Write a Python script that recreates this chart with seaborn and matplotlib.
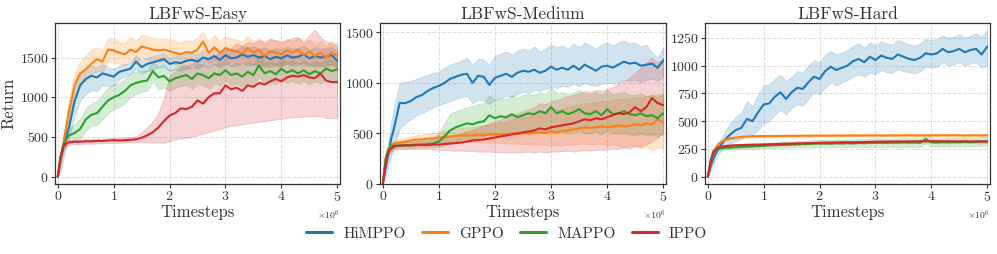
import numpy as np
import pandas as pd
import matplotlib
matplotlib.use("Agg")
import matplotlib.pyplot as plt
import seaborn as sns

# ---------------- data (timesteps in units of 1e6) ----------------
X = [0, 0.05, 0.1, 0.15, 0.2,
     0.3, 0.4, 0.5, 0.6, 0.7, 0.8, 0.9, 1.0,
     1.1, 1.2, 1.3, 1.4, 1.5, 1.6, 1.7, 1.8, 1.9, 2.0,
     2.1, 2.2, 2.3, 2.4, 2.5, 2.6, 2.7, 2.8, 2.9, 3.0,
     3.1, 3.2, 3.3, 3.4, 3.5, 3.6, 3.7, 3.8, 3.9, 4.0,
     4.1, 4.2, 4.3, 4.4, 4.5, 4.6, 4.7, 4.8, 4.9, 5.0]

methods = ["HiMPPO", "GPPO", "MAPPO", "IPPO"]
titles = ["LBFwS-Easy", "LBFwS-Medium", "LBFwS-Hard"]

# ----- Easy -----
easy_himppo = [0, 200, 380, 500, 620,
               950, 1150, 1230, 1270, 1250, 1300, 1280, 1260,
               1320, 1340, 1360, 1450, 1380, 1420, 1440, 1460, 1480, 1420,
               1440, 1430, 1460, 1470, 1450, 1500, 1480, 1520, 1470, 1530,
               1490, 1500, 1540, 1510, 1530, 1500, 1520, 1480, 1510, 1490,
               1530, 1500, 1510, 1540, 1490, 1520, 1500, 1510, 1530, 1460]
easy_himppo_lo = [0, 60, 230, 360, 460,
                  760, 950, 1040, 1090, 1080, 1150, 1140, 1150,
                  1230, 1260, 1290, 1350, 1300, 1330, 1350, 1370, 1390, 1330,
                  1350, 1340, 1360, 1380, 1360, 1400, 1380, 1420, 1370, 1420,
                  1390, 1400, 1430, 1400, 1420, 1390, 1410, 1380, 1400, 1390,
                  1420, 1400, 1400, 1430, 1390, 1410, 1390, 1400, 1420, 1360]
easy_himppo_hi = [0, 320, 500, 620, 760,
                  1120, 1300, 1380, 1400, 1380, 1420, 1380, 1360,
                  1400, 1420, 1430, 1530, 1460, 1500, 1520, 1540, 1560, 1500,
                  1530, 1520, 1550, 1560, 1540, 1600, 1580, 1620, 1570, 1640,
                  1590, 1600, 1650, 1620, 1640, 1610, 1630, 1590, 1620, 1600,
                  1640, 1610, 1620, 1650, 1600, 1630, 1610, 1620, 1640, 1580]

easy_gppo = [0, 220, 420, 620, 820,
             1150, 1300, 1350, 1420, 1480, 1450, 1600, 1590,
             1560, 1540, 1600, 1570, 1640, 1620, 1600, 1590, 1600, 1580,
             1560, 1540, 1570, 1560, 1600, 1700, 1560, 1630, 1560, 1620,
             1590, 1580, 1550, 1620, 1560, 1600, 1520, 1580, 1560, 1540,
             1590, 1560, 1600, 1530, 1580, 1520, 1560, 1500, 1560, 1520]
easy_gppo_lo = [0, 120, 300, 480, 650,
                980, 1150, 1200, 1280, 1330, 1320, 1450, 1440,
                1420, 1400, 1450, 1420, 1490, 1470, 1450, 1440, 1450, 1430,
                1410, 1390, 1420, 1410, 1450, 1530, 1410, 1480, 1410, 1470,
                1440, 1430, 1400, 1470, 1410, 1450, 1370, 1430, 1410, 1390,
                1440, 1410, 1450, 1380, 1430, 1370, 1410, 1350, 1410, 1370]
easy_gppo_hi = [0, 320, 540, 760, 980,
                1300, 1450, 1530, 1600, 1630, 1600, 1750, 1740,
                1700, 1690, 1760, 1720, 1790, 1770, 1750, 1740, 1750, 1730,
                1710, 1690, 1720, 1710, 1750, 1820, 1710, 1780, 1710, 1770,
                1740, 1730, 1700, 1770, 1710, 1750, 1670, 1730, 1710, 1690,
                1740, 1710, 1750, 1680, 1730, 1670, 1710, 1650, 1710, 1670]

easy_mappo = [0, 250, 400, 470, 520,
              550, 600, 720, 780, 800, 880, 960, 1000,
              1030, 1080, 1150, 1180, 1200, 1210, 1330, 1250, 1270, 1200,
              1240, 1260, 1280, 1230, 1300, 1280, 1240, 1300, 1280, 1340,
              1280, 1300, 1260, 1320, 1280, 1400, 1300, 1330, 1290, 1360,
              1310, 1340, 1300, 1340, 1290, 1330, 1300, 1360, 1330, 1350]
easy_mappo_lo = [0, 200, 340, 400, 430,
                 450, 480, 580, 640, 650, 720, 800, 850,
                 880, 930, 1000, 1040, 1070, 1080, 1200, 1100, 1120, 1080,
                 1120, 1140, 1160, 1110, 1170, 1150, 1110, 1170, 1150, 1210,
                 1150, 1170, 1130, 1190, 1150, 1260, 1170, 1200, 1160, 1230,
                 1180, 1210, 1170, 1210, 1160, 1200, 1170, 1230, 1200, 1220]
easy_mappo_hi = [0, 300, 460, 540, 610,
                 660, 730, 860, 920, 950, 1040, 1120, 1160,
                 1180, 1230, 1300, 1320, 1330, 1340, 1450, 1390, 1410, 1330,
                 1370, 1390, 1410, 1360, 1430, 1410, 1370, 1430, 1410, 1470,
                 1410, 1430, 1390, 1450, 1410, 1530, 1430, 1460, 1420, 1490,
                 1440, 1470, 1430, 1470, 1420, 1460, 1430, 1490, 1460, 1480]

easy_ippo = [0, 250, 380, 420, 430,
             440, 440, 445, 445, 450, 450, 455, 460,
             455, 460, 465, 470, 490, 520, 560, 620, 700, 770,
             800, 860, 850, 880, 960, 920, 1000, 1050, 1050, 1150,
             1100, 1120, 1080, 1150, 1130, 1180, 1160, 1200, 1230, 1200,
             1250, 1270, 1260, 1280, 1250, 1240, 1300, 1210, 1190, 1190]
easy_ippo_lo = [0, 200, 340, 390, 400,
                410, 410, 415, 415, 420, 420, 425, 425,
                425, 430, 430, 430, 430, 430, 430, 430, 425, 450,
                470, 480, 490, 500, 520, 540, 560, 580, 600, 620,
                640, 650, 660, 670, 680, 690, 700, 710, 720, 730,
                740, 745, 750, 755, 760, 760, 765, 740, 735, 740]
easy_ippo_hi = [0, 300, 420, 450, 460,
                470, 470, 475, 475, 480, 480, 485, 490,
                490, 495, 500, 510, 560, 620, 700, 800, 1000, 1280,
                1320, 1380, 1400, 1420, 1450, 1480, 1500, 1520, 1560, 1600,
                1620, 1680, 1650, 1700, 1680, 1720, 1700, 1740, 1720, 1700,
                1720, 1750, 1760, 1700, 1780, 1850, 1760, 1700, 1680, 1650]

# ----- Medium -----
med_himppo = [0, 150, 300, 450, 550,
              800, 800, 820, 860, 880, 920, 950, 970,
              1000, 1040, 1060, 1080, 1090, 1000, 1070, 1060, 980, 1050,
              1070, 1090, 1060, 1100, 1120, 1110, 1130, 1100, 1120, 1160,
              1130, 1150, 1130, 1170, 1130, 1180, 1150, 1120, 1160, 1170,
              1150, 1180, 1210, 1190, 1200, 1170, 1180, 1190, 1150, 1220]
med_himppo_lo = [0, 80, 180, 280, 350,
                 550, 600, 640, 680, 700, 730, 760, 780,
                 800, 820, 840, 860, 870, 800, 830, 830, 790, 830,
                 850, 870, 860, 890, 910, 900, 930, 920, 940, 960,
                 950, 970, 960, 990, 970, 1000, 980, 970, 990, 1000,
                 990, 1010, 1030, 1020, 1030, 1010, 1030, 1040, 1020, 1060]
med_himppo_hi = [0, 220, 420, 620, 760,
                 1000, 1010, 1020, 1040, 1060, 1080, 1100, 1110,
                 1150, 1180, 1200, 1220, 1250, 1180, 1240, 1230, 1180, 1270,
                 1290, 1310, 1280, 1320, 1340, 1320, 1360, 1310, 1340, 1380,
                 1350, 1370, 1340, 1390, 1350, 1400, 1370, 1340, 1380, 1400,
                 1370, 1400, 1420, 1390, 1400, 1360, 1380, 1300, 1250, 1350]

med_gppo = [0, 250, 350, 380, 400,
            410, 420, 430, 440, 440, 450, 450, 460,
            465, 470, 475, 480, 480, 480, 485, 480, 490, 490,
            490, 495, 500, 500, 505, 500, 510, 510, 505, 520,
            510, 525, 530, 540, 550, 560, 555, 560, 570, 560,
            570, 580, 570, 575, 590, 580, 600, 590, 640, 610]
med_gppo_lo = [0, 220, 320, 350, 370,
               375, 385, 390, 395, 395, 400, 400, 405,
               410, 410, 415, 415, 415, 415, 415, 410, 410, 410,
               405, 400, 400, 395, 395, 390, 390, 390, 385, 385,
               380, 385, 390, 390, 400, 400, 395, 395, 400, 380,
               390, 380, 360, 380, 370, 350, 370, 330, 360, 350]
med_gppo_hi = [0, 280, 380, 410, 430,
               445, 455, 470, 485, 490, 500, 505, 515,
               525, 535, 545, 555, 560, 565, 575, 580, 590, 600,
               610, 620, 640, 650, 660, 670, 690, 700, 710, 730,
               730, 750, 760, 780, 790, 800, 800, 810, 820, 820,
               830, 840, 840, 850, 860, 860, 870, 880, 890, 880]

med_mappo = [0, 250, 340, 370, 380,
             380, 385, 385, 390, 390, 395, 400, 420,
             470, 530, 560, 580, 600, 590, 610, 620, 680, 650,
             670, 660, 690, 660, 680, 700, 690, 720, 700, 760,
             700, 720, 690, 710, 740, 700, 690, 720, 680, 740,
             690, 700, 720, 690, 680, 700, 670, 680, 650, 700]
med_mappo_lo = [0, 220, 310, 340, 350,
                350, 355, 355, 360, 360, 360, 365, 370,
                380, 400, 420, 440, 450, 450, 460, 470, 500, 490,
                500, 490, 510, 490, 500, 510, 500, 520, 510, 540,
                510, 520, 500, 510, 530, 500, 500, 520, 490, 530,
                500, 500, 510, 490, 480, 500, 480, 490, 470, 500]
med_mappo_hi = [0, 280, 370, 400, 410,
                410, 415, 420, 425, 430, 440, 460, 500,
                600, 700, 720, 740, 760, 770, 790, 800, 880, 830,
                850, 840, 880, 850, 880, 890, 880, 910, 890, 960,
                900, 910, 890, 900, 930, 900, 890, 910, 880, 930,
                890, 900, 910, 880, 880, 900, 870, 880, 860, 900]

med_ippo = [0, 200, 320, 350, 370,
            380, 380, 380, 385, 385, 385, 390, 390,
            395, 400, 405, 410, 420, 430, 435, 440, 450, 460,
            470, 480, 490, 500, 510, 520, 530, 550, 540, 560,
            570, 580, 590, 600, 620, 640, 630, 650, 640, 660,
            680, 700, 690, 710, 760, 720, 760, 850, 800, 780]
med_ippo_lo = [0, 170, 290, 320, 340,
               345, 345, 345, 345, 345, 345, 340, 340,
               335, 330, 330, 330, 325, 325, 320, 320, 320, 315,
               315, 310, 315, 310, 315, 320, 310, 320, 315, 320,
               320, 325, 330, 320, 330, 335, 330, 340, 335, 340,
               350, 345, 360, 350, 380, 370, 390, 420, 460, 500]
med_ippo_hi = [0, 230, 350, 380, 400,
               415, 415, 420, 425, 425, 430, 440, 450,
               460, 470, 480, 500, 520, 540, 560, 580, 600, 620,
               640, 660, 680, 700, 720, 740, 760, 800, 790, 820,
               830, 850, 870, 880, 900, 920, 910, 930, 920, 940,
               960, 1000, 1020, 1050, 1100, 1150, 1200, 1250, 1200, 1250]

# ----- Hard -----
hard_himppo = [0, 90, 160, 215, 260,
               330, 380, 420, 440, 520, 500, 580, 650,
               660, 720, 760, 700, 760, 800, 790, 850, 900, 880,
               950, 990, 960, 980, 1000, 1040, 1060, 1030, 1080, 1050,
               1090, 1070, 1060, 1100, 1080, 1060, 1050, 1070, 1110, 1100,
               1110, 1150, 1120, 1130, 1150, 1120, 1140, 1150, 1100, 1170]
hard_himppo_lo = [0, 50, 110, 165, 210,
                  270, 300, 320, 340, 380, 380, 420, 480,
                  500, 560, 600, 560, 620, 650, 640, 700, 760, 740,
                  800, 850, 820, 850, 870, 900, 920, 900, 940, 920,
                  960, 940, 930, 970, 950, 940, 930, 950, 990, 980,
                  990, 1030, 1000, 1010, 1030, 1000, 1020, 1030, 980, 1000]
hard_himppo_hi = [0, 130, 210, 265, 310,
                  400, 480, 540, 580, 680, 640, 740, 820,
                  830, 880, 920, 860, 900, 950, 940, 1000, 1050, 1030,
                  1100, 1130, 1100, 1120, 1140, 1180, 1200, 1160, 1210, 1180,
                  1220, 1200, 1190, 1230, 1210, 1190, 1180, 1200, 1240, 1230,
                  1240, 1270, 1250, 1260, 1280, 1250, 1270, 1290, 1260, 1320]

hard_gppo = [0, 110, 210, 265, 300,
             330, 345, 352, 358, 362, 364, 365, 366,
             366, 367, 367, 368, 368, 368, 369, 369, 370, 370,
             370, 370, 371, 370, 371, 372, 371, 372, 371, 372,
             371, 372, 372, 371, 372, 373, 372, 372, 373, 372,
             372, 373, 372, 373, 372, 371, 372, 373, 372, 375]
hard_gppo_lo = [0, 95, 195, 252, 288,
                318, 334, 341, 347, 351, 353, 354, 355,
                355, 356, 356, 357, 357, 357, 358, 358, 359, 359,
                359, 359, 360, 359, 360, 361, 360, 361, 360, 361,
                360, 361, 361, 360, 361, 362, 361, 361, 362, 361,
                361, 362, 361, 362, 361, 360, 361, 362, 361, 363]
hard_gppo_hi = [0, 125, 225, 278, 312,
                342, 356, 363, 369, 373, 375, 376, 377,
                377, 378, 378, 379, 379, 379, 380, 380, 381, 381,
                381, 381, 382, 381, 382, 383, 382, 383, 382, 383,
                382, 383, 383, 382, 383, 384, 383, 383, 384, 383,
                383, 384, 383, 384, 383, 382, 383, 384, 383, 387]

hard_mappo = [0, 150, 230, 250, 255,
              260, 262, 265, 267, 270, 272, 275, 280,
              282, 284, 286, 288, 290, 292, 294, 296, 298, 300,
              300, 298, 302, 300, 303, 300, 305, 302, 306, 305,
              307, 305, 308, 306, 310, 307, 309, 305, 340, 310,
              308, 311, 309, 312, 310, 313, 311, 315, 318, 320]
hard_mappo_lo = [0, 135, 215, 235, 240,
                 244, 245, 247, 249, 251, 252, 254, 258,
                 258, 260, 261, 262, 263, 264, 265, 266, 267, 268,
                 268, 266, 269, 266, 268, 265, 269, 266, 270, 268,
                 270, 268, 271, 268, 272, 269, 270, 267, 300, 272,
                 270, 272, 270, 273, 271, 274, 272, 276, 279, 282]
hard_mappo_hi = [0, 165, 245, 265, 270,
                 276, 279, 283, 285, 289, 292, 296, 302,
                 306, 308, 311, 314, 317, 320, 323, 326, 329, 332,
                 332, 330, 335, 334, 338, 335, 341, 338, 342, 342,
                 344, 342, 345, 344, 348, 345, 348, 343, 385, 348,
                 346, 350, 348, 351, 349, 352, 350, 354, 357, 358]

hard_ippo = [0, 120, 220, 250, 265,
             275, 280, 283, 285, 287, 288, 289, 290,
             292, 294, 296, 297, 298, 300, 301, 302, 304, 305,
             306, 307, 308, 309, 310, 310, 311, 312, 313, 315,
             315, 316, 316, 317, 317, 318, 318, 319, 319, 320,
             320, 319, 320, 319, 318, 319, 318, 317, 318, 315]
hard_ippo_lo = [0, 105, 205, 238, 253,
                263, 268, 271, 273, 275, 276, 277, 278,
                280, 282, 284, 285, 286, 288, 289, 290, 292, 293,
                294, 295, 296, 297, 298, 298, 299, 300, 301, 303,
                303, 304, 304, 305, 305, 306, 306, 307, 307, 308,
                308, 307, 308, 307, 306, 307, 306, 305, 306, 303]
hard_ippo_hi = [0, 135, 235, 262, 277,
                287, 292, 295, 297, 299, 300, 301, 302,
                304, 306, 308, 309, 310, 312, 313, 314, 316, 317,
                318, 319, 320, 321, 322, 322, 323, 324, 325, 327,
                327, 328, 328, 329, 329, 330, 330, 331, 331, 332,
                332, 331, 332, 331, 330, 331, 330, 329, 330, 327]

ylims = [(-92, 1935), (0, 1592), (-65, 1383)]
yticks = [[0, 500, 1000, 1500], [0, 500, 1000, 1500], [0, 250, 500, 750, 1000, 1250]]

panels = [
    [(easy_himppo, easy_himppo_lo, easy_himppo_hi), (easy_gppo, easy_gppo_lo, easy_gppo_hi),
     (easy_mappo, easy_mappo_lo, easy_mappo_hi), (easy_ippo, easy_ippo_lo, easy_ippo_hi)],
    [(med_himppo, med_himppo_lo, med_himppo_hi), (med_gppo, med_gppo_lo, med_gppo_hi),
     (med_mappo, med_mappo_lo, med_mappo_hi), (med_ippo, med_ippo_lo, med_ippo_hi)],
    [(hard_himppo, hard_himppo_lo, hard_himppo_hi), (hard_gppo, hard_gppo_lo, hard_gppo_hi),
     (hard_mappo, hard_mappo_lo, hard_mappo_hi), (hard_ippo, hard_ippo_lo, hard_ippo_hi)],
]

# ---------------- styling ----------------
sns.set_theme(style="ticks")
plt.rcParams.update({
    "font.family": ["cmr10", "DejaVu Serif"],
    "mathtext.fontset": "cm",
    "axes.unicode_minus": False,
    "axes.formatter.use_mathtext": True,
})
palette = dict(zip(methods, ["#1f77b4", "#ff7f0e", "#2ca02c", "#d62728"]))

fig = plt.figure(figsize=(9.97, 2.54), dpi=100)
lefts = [55 / 997, 380 / 997, 705 / 997]
widths = [285 / 997, 286 / 997, 285 / 997]
bottom = 1 - 184 / 254
height = (184 - 23) / 254

xs = np.array(X) * 1e6
for i, series in enumerate(panels):
    ax = fig.add_axes([lefts[i], bottom, widths[i], height])
    rows = []
    for m, (mean, lo, hi) in zip(methods, series):
        for xv, yv in zip(xs, mean):
            rows.append((xv, yv, m))
        ax.fill_between(xs, lo, hi, color=palette[m], alpha=0.2, lw=0.6)
    df = pd.DataFrame(rows, columns=["Timesteps", "Return", "Method"])
    sns.lineplot(data=df, x="Timesteps", y="Return", hue="Method", hue_order=methods,
                 palette=palette, lw=1.5, ax=ax, legend=(i == 0), errorbar=None)
    ax.set_xlim(-0.05e6, 5.05e6)
    ax.set_ylim(*ylims[i])
    ax.set_xticks([0, 1e6, 2e6, 3e6, 4e6, 5e6])
    ax.set_yticks(yticks[i])
    ax.ticklabel_format(axis="x", style="sci", scilimits=(6, 6), useMathText=True)
    ax.xaxis.get_offset_text().set_fontsize(7)
    ax.xaxis.get_offset_text().set_color("#555555")
    ax.grid(True, ls="--", lw=0.7, color="#dddddd")
    ax.set_axisbelow(True)
    ax.set_title(titles[i], fontsize=12.5, color="#333333", pad=3)
    ax.set_xlabel("Timesteps", fontsize=12, color="#333333", labelpad=0)
    ax.set_ylabel("Return" if i == 0 else "", fontsize=12, color="#333333", labelpad=2)
    ax.tick_params(labelsize=10, colors="#333333", length=3, width=0.8, pad=1.5)
    for sp in ax.spines.values():
        sp.set_color("#333333")
        sp.set_linewidth(0.9)
    if i == 0:
        handles, labels = ax.get_legend_handles_labels()
        ax.get_legend().remove()

leg = fig.legend(handles, labels, loc="center", bbox_to_anchor=(0.508, 0.08), ncol=4,
                 frameon=False, fontsize=11, handlelength=1.75, columnspacing=1.05,
                 handletextpad=0.7)
for h in leg.legend_handles:
    h.set_linewidth(2.2)
for t in leg.get_texts():
    t.set_color("#333333")

fig.savefig("out.png", dpi=100)
